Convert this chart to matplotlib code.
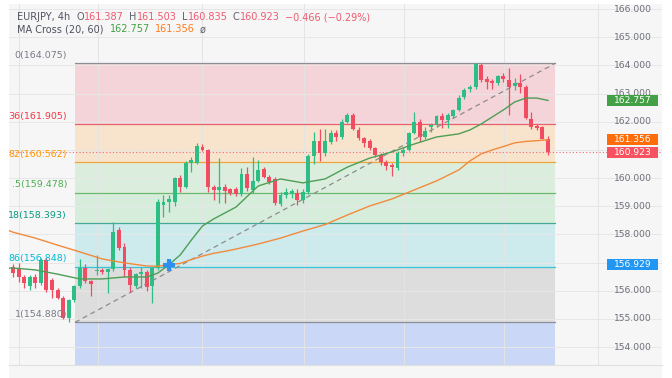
import matplotlib
matplotlib.use("Agg")
import matplotlib.pyplot as plt
from matplotlib.transforms import blended_transform_factory
from matplotlib.patches import Rectangle

# ---------------- data ----------------
opens = [156.84, 156.77, 156.49, 156.17, 156.49, 156.27, 157.09, 156.38, 156.03, 155.74,
         155.03, 155.67, 156.17, 156.81, 156.33, 156.70, 156.72, 156.65, 156.77, 158.15,
         157.55, 156.74, 156.17, 156.60, 156.67, 156.17, 156.81, 159.05, 159.15, 159.16,
         160.00, 159.70, 160.55, 160.55, 161.10, 161.00, 159.69, 159.58, 159.69, 159.60,
         159.60, 159.43, 160.15, 159.57, 159.91, 160.31, 160.03, 159.96, 159.08, 159.40,
         159.45, 159.48, 159.22, 159.52, 160.78, 161.33, 160.88, 161.29, 161.61, 161.47,
         162.00, 162.24, 161.71, 161.41, 161.32, 161.06, 160.82, 160.58, 160.46, 160.35,
         160.89, 161.00, 161.59, 162.00, 161.47, 161.80, 161.88, 162.20, 162.06, 162.20,
         162.42, 162.87, 163.15, 163.23, 164.00, 163.50, 163.45, 163.37, 163.62, 163.48,
         163.27, 163.36, 163.22, 162.10, 161.85, 161.80, 161.387]
highs = [156.95, 157.00, 156.56, 156.56, 156.60, 157.16, 157.16, 156.45, 156.10, 155.80,
         155.70, 156.20, 157.13, 156.95, 156.40, 157.27, 156.80, 156.80, 158.45, 158.25,
         157.70, 156.85, 156.62, 156.85, 156.75, 156.85, 159.25, 159.40, 159.40, 160.05,
         160.10, 160.60, 160.74, 161.24, 161.20, 161.05, 159.75, 160.70, 159.80, 159.64,
         159.70, 160.35, 160.40, 160.74, 160.64, 160.40, 160.10, 160.05, 159.50, 159.65,
         159.60, 159.60, 159.62, 160.85, 161.65, 161.73, 161.73, 161.70, 161.70, 162.10,
         162.32, 162.30, 161.80, 161.47, 161.40, 161.10, 160.90, 160.65, 160.55, 160.95,
         161.10, 161.65, 162.36, 162.10, 161.80, 161.95, 162.25, 162.30, 162.30, 162.45,
         162.95, 163.20, 163.30, 164.075, 164.07, 163.62, 163.50, 163.65, 163.72, 163.90,
         163.54, 163.70, 163.30, 162.36, 161.92, 161.85, 161.503]
lows = [156.50, 156.30, 156.10, 156.03, 156.10, 156.20, 155.95, 155.74, 155.70, 155.00,
        154.88, 155.60, 156.10, 156.27, 155.80, 156.56, 156.60, 155.92, 156.70, 157.45,
        156.50, 155.97, 156.10, 156.10, 156.00, 155.58, 156.75, 158.63, 158.80, 159.00,
        159.52, 159.65, 160.23, 160.50, 160.95, 159.52, 159.22, 159.12, 159.12, 159.40,
        159.35, 159.35, 159.55, 159.46, 159.87, 160.00, 159.80, 159.04, 159.00, 159.30,
        159.30, 159.04, 159.10, 159.45, 160.50, 160.62, 160.80, 161.20, 161.30, 161.40,
        161.95, 161.70, 161.35, 161.10, 161.00, 160.75, 160.45, 160.30, 160.07, 160.30,
        160.80, 160.95, 161.55, 161.29, 161.40, 161.65, 161.80, 161.78, 161.78, 162.15,
        162.38, 162.80, 163.05, 163.15, 163.40, 163.18, 163.18, 163.30, 163.40, 162.24,
        163.13, 163.03, 162.10, 161.75, 161.70, 161.40, 160.835]
closes = [156.63, 156.49, 156.27, 156.49, 156.27, 157.09, 156.03, 156.03, 155.74, 155.03,
          155.67, 156.17, 156.81, 156.35, 156.24, 156.74, 156.65, 156.77, 158.10, 157.51,
          156.74, 156.20, 156.59, 156.66, 156.13, 156.81, 159.16, 159.15, 159.27, 160.00,
          159.70, 160.55, 160.64, 161.13, 161.00, 159.70, 159.58, 159.69, 159.55, 159.48,
          159.43, 160.15, 159.64, 159.91, 160.29, 160.03, 159.87, 159.11, 159.40, 159.52,
          159.53, 159.22, 159.52, 160.78, 161.33, 160.90, 161.33, 161.61, 161.47, 162.00,
          162.24, 161.73, 161.41, 161.23, 161.06, 160.82, 160.58, 160.43, 160.38, 160.88,
          161.00, 161.61, 162.00, 161.47, 161.68, 161.88, 162.20, 162.06, 162.24, 162.42,
          162.85, 163.13, 163.23, 164.05, 163.48, 163.42, 163.37, 163.62, 163.50, 163.22,
          163.36, 163.24, 162.12, 161.82, 161.77, 161.40, 160.923]

ma_idx = [-1, 0, 4, 8, 12, 16, 20, 24, 26, 28, 30, 32, 34, 36, 38, 40, 44, 48, 52, 56, 60,
          64, 68, 72, 76, 80, 82, 84, 86, 88, 90, 92, 94, 96]
ma20 = [156.80, 156.81, 156.74, 156.59, 156.42, 156.42, 156.49, 156.49, 156.63, 156.93,
        157.27, 157.80, 158.30, 158.55, 158.76, 158.97, 159.72, 159.97, 159.83, 159.97, 160.39,
        160.71, 160.93, 161.21, 161.46, 161.57, 161.71, 161.92, 162.17, 162.42, 162.70,
        162.84, 162.84, 162.757]
ma60 = [158.16, 158.08, 157.87, 157.62, 157.38, 157.13, 156.99, 156.88, 156.87, 156.93,
        156.97, 157.11, 157.23, 157.33, 157.40, 157.48, 157.66, 157.87, 158.12, 158.35, 158.69,
        159.01, 159.26, 159.58, 159.90, 160.29, 160.61, 160.86, 161.00, 161.12, 161.25,
        161.30, 161.33, 161.356]

cross_idx = 28
cross_price = 156.929

fib_high = 164.075
fib_low = 154.880
fib_ratios = [0, 0.236, 0.382, 0.5, 0.618, 0.786, 1]
fib_labels = ["0(164.075)", "36(161.905)", "82(160.562)", ".5(159.478)",
              "18(158.393)", "86(156.848)", "1(154.880)"]
fib_start_idx = 11.13
fib_end_idx = 97.3

price_ticks = [154, 155, 156, 157, 158, 159, 160, 161, 162, 163, 164, 165, 166]
hidden_ticks = [157, 161]          # covered by the value flags in the reference
time_tick_pos = [1.1, 15.25, 33.9, 52.2, 70.2, 88.1, 105.0]
time_tick_labels = ["3:00", "Mar", "6", "11", "14", "19", "23"]

symbol = "EURJPY, 4h"
ohlc_names = ["O", "H", "L", "C"]
ohlc_vals = ["161.387", "161.503", "160.835", "160.923"]
change_text = "\u22120.466 (\u22120.29%)"
ma_title = "MA Cross (20, 60)"

# ---------------- styling ----------------
W, H = 672, 378
UP, DOWN = "#2dbd85", "#f04d63"
GRAY_TXT = "#6b6e78"
fib_line_colors = ["#8d8f96", "#ec5f6c", "#eea53a", "#6cba70", "#46a896", "#3cc2d6", "#8d8f96"]
fib_fill_colors = ["#f4d1d5", "#f9e3c9", "#d9eedb", "#d4ecd9", "#c9e9ec", "#dbdbdb"]
fib_text_colors = ["#787b86", "#f23645", "#ff9800", "#4caf50", "#089981", "#00bcd4", "#787b86"]
below_fill = "#c9d6f6"

fig = plt.figure(figsize=(W / 100, H / 100), dpi=100, facecolor="white")
ax = fig.add_axes([9 / W, (H - 365) / H, 653 / W, 361 / H])
ax.set_facecolor("#f6f6f6")
for s in ax.spines.values():
    s.set_visible(False)
ax.set_xticks([])
ax.set_yticks([])

def py2price(y):
    return fib_high - (y - 63.3) / 28.17

ax.set_ylim(py2price(365), py2price(4))
ax.set_xlim((9 - 13) / 5.573, (662 - 13) / 5.573)
ymin, ymax = ax.get_ylim()

# time-axis band
fig.patches.append(Rectangle((9 / W, 0), 653 / W, (H - 365) / H, transform=fig.transFigure,
                             facecolor="#f6f6f6", edgecolor="none", zorder=0))
fig.lines.append(plt.Line2D([9 / W, 662 / W], [(H - 365) / H] * 2, transform=fig.transFigure,
                            color="#e0e0e0", lw=0.8))

# grid
for p in price_ticks:
    ax.axhline(p, color="#e7e7e7", lw=0.7, zorder=1)
for t in time_tick_pos:
    ax.axvline(t, color="#e4e4e4", lw=0.7, zorder=1)

# fib retracement
levels = [fib_high - r * (fib_high - fib_low) for r in fib_ratios]
fw = fib_end_idx - fib_start_idx
for i in range(len(levels) - 1):
    ax.add_patch(Rectangle((fib_start_idx, levels[i + 1]), fw, levels[i] - levels[i + 1],
                           facecolor=fib_fill_colors[i], edgecolor="none", alpha=0.9, zorder=0.5))
ax.add_patch(Rectangle((fib_start_idx, ymin - 1), fw, levels[-1] - ymin + 1,
                       facecolor=below_fill, edgecolor="none", alpha=0.95, zorder=0.5))
for lv, lc, lab, tc in zip(levels, fib_line_colors, fib_labels, fib_text_colors):
    ax.plot([fib_start_idx, fib_end_idx], [lv, lv], color=lc, lw=0.9, zorder=2)
    ax.annotate(lab, xy=(fib_start_idx, lv), xytext=(-8, 8), textcoords="offset pixels",
                ha="right", va="center", fontsize=6.8, color=tc, zorder=6,
                annotation_clip=False, clip_on=True)
ax.plot([fib_start_idx, fib_end_idx], [fib_low, fib_high], color="#8c8c8c", lw=0.9,
        ls=(0, (4, 3)), zorder=2.5)

# last price line
ax.axhline(closes[-1], color="#f06a7a", lw=0.8, ls=(0, (1, 2)), zorder=2.6)

# candles
idx = list(range(len(opens)))
cols = [UP if c >= o else DOWN for o, c in zip(opens, closes)]
ax.vlines(idx, lows, highs, colors=cols, lw=0.9, zorder=3)
bodies = [max(abs(c - o), 0.04) for o, c in zip(opens, closes)]
bottoms = [min(o, c) for o, c in zip(opens, closes)]
ax.bar(idx, bodies, bottom=bottoms, width=0.7, color=cols, edgecolor="none", zorder=3.2)

# MA cross
ax.plot(ma_idx, ma60, color="#f28a3c", lw=1.0, zorder=4)
ax.plot(ma_idx, ma20, color="#4e9e55", lw=1.0, zorder=4)
ax.plot([cross_idx], [cross_price], marker="+", ms=8, mew=3, color="#2f8ff0", zorder=5)

# price scale labels
btr = blended_transform_factory(ax.transAxes, ax.transData)
xlab = (632.5 - 9) / 653
for p in price_ticks:
    if p in hidden_ticks:
        continue
    ax.text(xlab, p, f"{p:.3f}", transform=btr, ha="center", va="center",
            fontsize=6.6, color=GRAY_TXT, zorder=6, clip_on=True)

box_w = 51 / 653
box_h = 11 / 28.17
for val, fc in [(ma20[-1], "#43a047"), (ma60[-1], "#ff6d0a"), (closes[-1], "#f7525f"),
                (cross_price, "#2196f3")]:
    ax.add_patch(Rectangle((xlab - box_w / 2, val - box_h / 2), box_w, box_h, transform=btr,
                           facecolor=fc, edgecolor="none", zorder=7))
    ax.text(xlab, val, f"{val:.3f}", transform=btr, ha="center", va="center",
            fontsize=6.6, color="white", zorder=8)

# time labels
ttr = blended_transform_factory(ax.transData, fig.transFigure)
for t, lab in zip(time_tick_pos, time_tick_labels):
    ax.text(t + (0.4 if lab == "3:00" else 0), (H - 371) / H, lab, transform=ttr,
            ha="center", va="center", fontsize=6.6, color="#555760",
            fontweight="bold" if lab == "Mar" else "normal", clip_on=False)

# header legend
renderer = fig.canvas.get_renderer()

def pieces(x_px, y_px, parts, size=7.0):
    x = x_px
    for s, c, gap in parts:
        t = fig.text(x / W, 1 - y_px / H, s, color=c, fontsize=size, ha="left", va="center")
        x += t.get_window_extent(renderer=renderer).width + gap

RED = "#ef5a6f"
line1 = [(symbol, "#4f5260", 6)]
for n, v in zip(ohlc_names, ohlc_vals):
    line1.append((n, "#5d606b", 0.5))
    line1.append((v, RED, 5))
line1.append((change_text, RED, 0))
pieces(17, 17, line1)
pieces(17, 29.5, [(ma_title, "#4f5260", 6), (f"{ma20[-1]:.3f}", "#43a047", 5),
                  (f"{ma60[-1]:.3f}", "#ff7b1c", 5), ("\u00f8", "#5d606b", 0)])

fig.savefig("out.png", dpi=100, facecolor="white")
